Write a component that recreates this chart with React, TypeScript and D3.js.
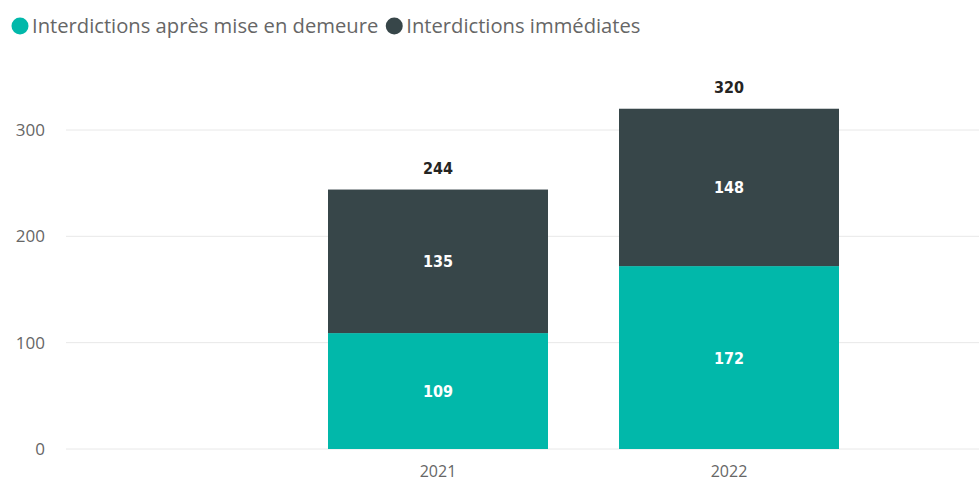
import { useEffect, useRef } from "react";
import * as d3 from "d3";

const YEARS = ["2021", "2022"];
const APRES_MISE_EN_DEMEURE = [109, 172];
const IMMEDIATES = [135, 148];
const Y_TICKS = [0, 100, 200, 300];
const SERIES_NAMES = ["Interdictions après mise en demeure", "Interdictions immédiates"];
const COLORS = ["#01B8AA", "#374649"];

const W = 979, H = 481;

export default function App() {
  const ref = useRef<SVGSVGElement>(null);
  useEffect(() => {
    const el = ref.current;
    if (!el) return;
    const svg = d3.select(el);
    svg.selectAll("*").remove();
    const axisFont = "'Open Sans', 'Noto Sans', sans-serif";
    const labelFont = "'DejaVu Sans Condensed', 'DejaVu Sans', sans-serif";

    const x = d3.scaleBand<string>().domain(YEARS).range([292.5, 874.5]).paddingInner(0.244).paddingOuter(0.122);
    const y = d3.scaleLinear().domain([0, 300]).range([449, 130]);

    // grid + y ticks
    Y_TICKS.forEach((t) => {
      svg.append("line").attr("x1", 66).attr("x2", W).attr("y1", y(t)).attr("y2", y(t)).attr("stroke", "#E8E8E8").attr("stroke-width", 1);
      svg.append("text").attr("x", 45).attr("y", y(t) + 6).attr("text-anchor", "end").attr("fill", "#666666").attr("font-size", 17).attr("font-family", axisFont).text(t);
    });

    // stacked bars
    YEARS.forEach((yr, i) => {
      const a = APRES_MISE_EN_DEMEURE[i], b = IMMEDIATES[i];
      const bx = x(yr) ?? 0, bw = x.bandwidth();
      svg.append("rect").attr("x", bx).attr("width", bw).attr("y", y(a)).attr("height", y(0) - y(a)).attr("fill", COLORS[0]);
      svg.append("rect").attr("x", bx).attr("width", bw).attr("y", y(a + b)).attr("height", y(a) - y(a + b)).attr("fill", COLORS[1]);
      const cx = bx + bw / 2;
      svg.append("text").attr("x", cx).attr("y", (y(0) + y(a)) / 2 + 6).attr("text-anchor", "middle").attr("fill", "#FFFFFF").attr("font-size", 16).attr("font-weight", "bold").attr("font-family", labelFont).text(a);
      svg.append("text").attr("x", cx).attr("y", (y(a) + y(a + b)) / 2 + 6).attr("text-anchor", "middle").attr("fill", "#FFFFFF").attr("font-size", 16).attr("font-weight", "bold").attr("font-family", labelFont).text(b);
      svg.append("text").attr("x", cx).attr("y", y(a + b) - 16).attr("text-anchor", "middle").attr("fill", "#252423").attr("font-size", 16).attr("font-weight", "bold").attr("font-family", labelFont).text(a + b);
      svg.append("text").attr("x", cx).attr("y", 477).attr("text-anchor", "middle").attr("fill", "#666666").attr("font-size", 16).attr("font-family", axisFont).text(yr);
    });

    // legend
    let lx = 20;
    SERIES_NAMES.forEach((name, i) => {
      svg.append("circle").attr("cx", lx).attr("cy", 26).attr("r", 8.5).attr("fill", COLORS[i]);
      const t = svg.append("text").attr("x", lx + 12).attr("y", 33).attr("fill", "#666666").attr("font-size", 20.2).attr("font-family", axisFont).text(name);
      const w = (t.node() as SVGTextElement).getComputedTextLength();
      lx += 12 + w + 16;
    });
  }, []);
  return <svg ref={ref} width={W} height={H} style={{ position: "absolute", left: 0, top: 0 }} />;
}
